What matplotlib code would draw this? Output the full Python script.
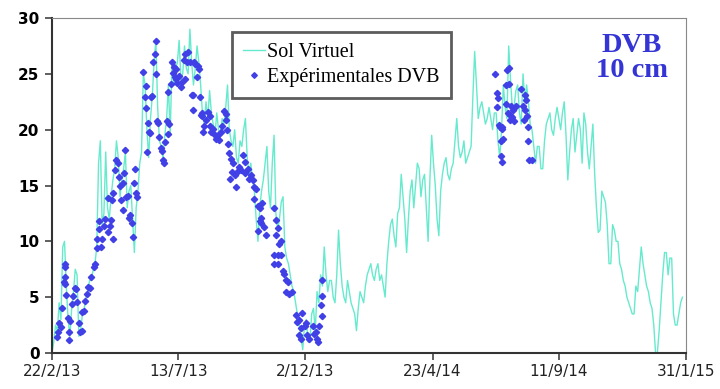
import numpy as np
import matplotlib
matplotlib.use("Agg")
import matplotlib.pyplot as plt

start = np.datetime64("2013-02-22")

# Sol Virtuel, one value every 2 days from 22/2/13
sim_step = 2
sim_vals = [
    0.0, 1.0, 2.5, 2.0, 4.5, 3.0, 9.5, 10.0, 6.0, 3.0,
    1.5, 4.0, 5.5, 7.5, 7.0, 1.5, 2.0, 3.5, 4.0, 5.0,
    5.5, 6.5, 6.5, 7.5, 8.0, 9.5, 17.0, 19.0, 11.5, 12.5,
    18.0, 13.0, 12.0, 14.0, 15.5, 16.5, 19.0, 17.5, 14.0, 15.5,
    16.5, 18.0, 13.0, 14.5, 15.0, 12.0, 9.0, 13.0, 14.5, 17.0,
    18.0, 25.0, 24.0, 20.0, 17.5, 21.0, 23.0, 26.0, 28.0, 22.0,
    19.0, 18.5, 17.5, 19.5, 21.0, 24.0, 19.5, 26.0, 24.0, 25.5,
    26.0, 28.0, 24.5, 25.0, 27.5, 25.5, 25.0, 29.0, 26.0, 24.0,
    25.5, 27.5, 26.0, 24.0, 21.5, 20.5, 22.5, 21.0, 23.5, 21.5,
    20.5, 19.5, 21.5, 20.0, 19.5, 21.0, 20.5, 22.0, 24.0, 20.0,
    19.0, 18.5, 20.0, 17.5, 17.0, 19.0, 18.5, 20.0, 21.0, 17.5,
    16.0, 17.0, 15.5, 14.5, 12.0, 10.0, 13.0, 14.5, 15.5, 17.0,
    18.5, 14.5, 13.0, 17.0, 19.5, 12.5, 11.0, 12.0, 13.5, 14.0,
    9.5, 8.5, 8.0, 7.0, 6.0, 5.5, 4.5, 3.5, 2.5, 1.5,
    0.3, 2.5, 3.0, 1.0, 1.0, 3.5, 4.0, 2.0, 5.5, 4.5,
    7.0, 6.0, 9.5, 7.0, 5.5, 6.5, 6.5, 5.0, 4.5, 7.0,
    11.0, 8.0, 6.0, 5.0, 4.5, 6.5, 5.5, 4.5, 4.0, 3.5,
    2.0, 4.0, 5.5, 5.0, 4.5, 6.0, 7.0, 7.5, 8.0, 7.0,
    6.5, 7.5, 8.0, 6.5, 7.0, 6.0, 5.0, 8.0, 10.0, 11.5,
    12.0, 10.5, 9.5, 12.5, 13.0, 16.0, 14.0, 12.0, 9.0, 12.0,
    14.5, 15.5, 13.0, 15.0, 17.0, 16.5, 14.0, 15.5, 16.0, 13.0,
    10.0, 15.5, 19.5, 17.0, 15.0, 12.0, 10.5, 14.5, 16.0, 17.0,
    17.5, 16.0, 15.5, 16.5, 17.0, 19.0, 21.0, 18.5, 17.5, 18.0,
    19.0, 17.0, 17.5, 18.0, 18.5, 23.0, 27.0, 24.0, 21.0, 22.0,
    22.5, 21.5, 20.5, 21.0, 22.0, 21.0, 20.0, 21.5, 21.5, 19.0,
    17.5, 20.0, 24.0, 22.0, 21.0, 27.5, 24.5, 22.0, 22.0, 23.5,
    24.0, 21.5, 20.5, 25.0, 22.5, 24.0, 22.5, 20.5, 20.0, 18.5,
    17.0, 18.5, 18.5, 16.5, 16.5, 19.0, 20.5, 21.0, 21.5, 20.0,
    19.5, 21.0, 22.0, 21.0, 20.0, 21.5, 22.5, 19.5, 15.5, 18.0,
    20.0, 21.0, 18.0, 19.5, 21.0, 20.0, 17.0, 21.5, 20.5, 18.0,
    16.5, 18.5, 20.5, 16.0, 13.0, 10.8, 11.0, 14.5, 14.0, 13.5,
    11.5, 8.0, 8.0, 11.5, 11.0, 10.0, 10.0, 8.0, 7.5, 6.5,
    6.0, 5.0, 4.5, 4.0, 3.5, 3.5, 6.0, 5.5, 7.5, 9.5,
    8.0, 7.0, 6.0, 5.5, 4.5, 4.0, 2.5, 0.0, 0.0, 2.0,
    4.5, 7.0, 9.0, 9.0, 7.0, 8.5, 8.5, 3.5, 2.5, 2.5,
    3.5, 4.5, 5.0,
]

# Expérimentales DVB: day offset from 22/2/13 and temperature
exp_days = [
    6, 7, 8, 10, 11, 13, 14, 14, 15, 15, 16, 18, 19, 19, 20, 22, 24, 26, 27, 28,
    30, 31, 33, 34, 36, 37, 39, 40, 42, 44, 47, 48, 50, 50, 53, 53, 55, 56, 58, 59,
    62, 63, 65, 66, 67, 68, 68, 70, 72, 74, 75, 76, 77, 79, 79, 80, 82, 83, 85, 86,
    87, 89, 90, 92, 93, 94, 95, 102, 104, 105, 105, 106, 107, 108, 110, 111, 112, 113, 115, 116,
    116, 117, 118, 120, 122, 123, 124, 125, 126, 128, 129, 131, 129, 133, 134, 135, 136, 137, 138, 139,
    140, 142, 144, 145, 147, 148, 149, 151, 152, 154, 156, 157, 158, 159, 160, 162, 163, 164, 165, 166,
    167, 168, 169, 170, 172, 174, 176, 177, 178, 180, 182, 183, 185, 187, 189, 190, 192, 194, 194, 195,
    196, 198, 199, 200, 201, 202, 204, 206, 207, 209, 211, 213, 215, 216, 219, 220, 222, 224, 226, 228,
    226, 230, 232, 235, 233, 232, 230, 233, 237, 239, 248, 250, 252, 250, 254, 256, 248, 252, 256, 248,
    252, 258, 259, 261, 263, 261, 265, 268, 272, 274, 276, 278, 276, 278, 279, 282, 284, 285, 287, 291,
    293, 295, 296, 297, 298, 300, 301, 301, 302,
    495, 497, 497, 498, 499, 500, 501, 502, 503, 504, 501, 502, 508, 510, 507, 510, 507, 509,
    511, 513, 515, 512, 518, 524, 528, 529, 527, 528, 526, 530, 531, 532, 533, 536, 516, 514,
]
exp_vals = [
    1.4, 1.9, 2.7, 2.3, 4.0, 6.4, 8.0, 6.8, 7.7, 6.2, 5.2, 3.1, 1.9, 1.2, 2.9, 4.4, 5.1, 5.8, 5.7, 4.6,
    2.7, 1.9, 2.0, 3.7, 3.8, 4.7, 5.3, 5.9, 5.8, 6.8, 7.7, 8.0, 9.4, 10.2, 11.8, 11.1, 9.5, 10.2, 11.4, 12.0,
    13.9, 10.8, 11.4, 11.9, 13.7, 10.2, 14.3, 16.4, 17.3, 17.0, 15.8, 15.0, 13.7, 12.8, 15.2, 16.1, 18.2, 14.0, 14.1, 12.1,
    12.4, 11.6, 10.4, 15.2, 16.5, 14.3, 14.0, 25.2, 22.9, 23.9, 21.9, 18.0, 20.6, 19.8, 19.7, 22.9, 23.0, 26.1, 26.8, 27.9,
    25.0, 20.8, 20.6, 19.3, 18.4, 18.1, 17.3, 17.0, 18.9, 20.8, 19.6, 20.5, 23.4, 24.1, 26.1, 25.1, 25.6, 24.7, 25.4, 24.5,
    24.2, 24.8, 23.8, 24.3, 26.2, 26.8, 24.5, 26.1, 27.0, 26.1, 23.1, 21.8, 23.1, 26.1, 25.9, 24.7, 25.7, 25.4, 22.9, 21.3,
    21.2, 21.5, 19.8, 20.3, 20.9, 21.6, 21.2, 20.3, 19.8, 20.1, 19.5, 19.2, 19.5, 19.1, 19.8, 20.3, 21.7, 21.4, 20.9, 20.0,
    18.7, 17.9, 15.6, 17.4, 16.2, 17.0, 15.9, 14.9, 16.2, 16.7, 16.4, 17.7, 17.1, 16.1, 16.5, 15.6, 15.9, 15.5, 14.9, 14.7,
    13.8, 13.2, 13.0, 13.4, 12.1, 11.8, 10.9, 11.6, 11.3, 10.6, 13.0, 11.9, 11.2, 10.6, 9.8, 10.0, 8.8, 8.8, 8.8, 8.0,
    8.0, 7.3, 7.1, 6.5, 6.4, 5.5, 5.3, 5.5, 3.4, 2.8, 3.0, 2.2, 1.6, 1.3, 3.6, 2.4, 2.7, 1.6, 1.3, 2.4,
    1.7, 1.9, 1.3, 1.0, 2.4, 4.3, 3.3, 5.1, 6.5,
    25.0, 23.3, 22.0, 22.8, 20.4, 20.2, 19.0, 20.1, 20.2, 19.2, 17.6, 17.1, 25.3, 25.5, 24.0, 24.1, 22.3, 21.5,
    21.3, 22.1, 21.8, 20.9, 22.1, 23.6, 23.1, 22.7, 20.9, 21.8, 22.1, 21.2, 20.2, 19.0, 17.3, 17.3, 20.8, 21.1,
]

tick_labels = ["22/2/13", "13/7/13", "2/12/13", "23/4/14", "11/9/14", "31/1/15"]
tick_dates = ["2013-02-22", "2013-07-13", "2013-12-02", "2014-04-23", "2014-09-11", "2015-01-31"]

sim_dates = (start + np.arange(len(sim_vals)) * sim_step).astype(object)
exp_dates = (start + np.array(exp_days)).astype(object)

fig = plt.figure(figsize=(7.2, 3.89), dpi=100)
ax = fig.add_axes([0.0722, 0.0925, 0.8806, 0.8612])

ax.plot(sim_dates, sim_vals, color="#66EACD", lw=1.0, label="Sol Virtuel", zorder=2)
ax.plot(exp_dates, exp_vals, ls="none", marker="D", ms=3.2, color="#4040E6",
        mec="#4040E6", label="Expérimentales DVB", zorder=3)

ax.set_ylim(0, 30)
ax.set_yticks([0, 5, 10, 15, 20, 25, 30])
xt = [np.datetime64(d).astype(object) for d in tick_dates]
ax.set_xlim(xt[0], xt[-1])
ax.set_xticks(xt)
ax.set_xticklabels(tick_labels)

for lab in ax.get_yticklabels():
    lab.set_fontweight("bold")
    lab.set_fontsize(11)
for lab in ax.get_xticklabels():
    lab.set_fontsize(11)
    lab.set_color("#222222")

ax.tick_params(axis="y", direction="out", length=5, width=1.2, pad=4, color="#444444")
ax.tick_params(axis="x", direction="out", length=5, width=1.2, pad=3, color="#444444")

ax.spines["left"].set_color("#333333")
ax.spines["left"].set_linewidth(1.5)
ax.spines["bottom"].set_color("#333333")
ax.spines["bottom"].set_linewidth(1.5)
ax.spines["top"].set_color("#888888")
ax.spines["right"].set_color("#888888")

leg = ax.legend(loc="upper left", bbox_to_anchor=(0.284, 0.958),
                prop={"family": "Liberation Serif", "size": 14.5},
                frameon=True, fancybox=False, handlelength=1.1,
                handletextpad=0.1, borderpad=0.55, labelspacing=0.3,
                borderaxespad=0, markerscale=0.9)
leg.get_frame().set_edgecolor("#333333")
leg.get_frame().set_linewidth(2)

ax.text(0.915, 0.955, "DVB\n10 cm", transform=ax.transAxes, ha="center", va="top",
        family="Liberation Serif", fontweight="bold", fontsize=20.5,
        color="#3535D5", linespacing=1.0)

fig.savefig("out.png", dpi=100)
